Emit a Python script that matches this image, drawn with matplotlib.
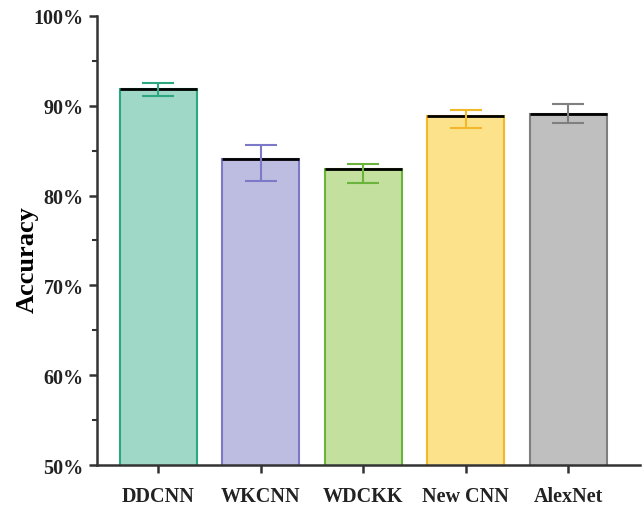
import matplotlib
matplotlib.use("Agg")
import matplotlib.pyplot as plt
from matplotlib.ticker import MultipleLocator, FuncFormatter

plt.rcParams["font.family"] = ["Liberation Serif", "DejaVu Serif"]

models = ["DDCNN", "WKCNN", "WDCKK", "New CNN", "AlexNet"]
accuracy = [91.9, 84.1, 82.9, 88.9, 89.05]
err_low = [0.85, 2.5, 1.5, 1.4, 1.0]
err_high = [0.6, 1.5, 0.65, 0.6, 1.15]
fill_colors = ["#9fd8c6", "#bcbde0", "#c3e09f", "#fde28c", "#bfbfbf"]
edge_colors = ["#2ca880", "#7c79c8", "#6bb43c", "#f3b82a", "#7f7f7f"]

fig = plt.figure(figsize=(6.42, 5.10), dpi=100)
ax = fig.add_axes([0.151, 0.086, 0.846, 0.881])

x = list(range(len(models)))
for i in x:
    ax.bar(i, accuracy[i], width=0.75, color=fill_colors[i],
           edgecolor=edge_colors[i], linewidth=1.5, zorder=2)
    ax.hlines(accuracy[i], i - 0.375, i + 0.375, color="black", linewidth=2, zorder=4)
    ax.errorbar(i, accuracy[i], yerr=[[err_low[i]], [err_high[i]]], fmt="none",
                ecolor=edge_colors[i], elinewidth=1.5, capsize=11.5, capthick=1.5, zorder=5)

ax.set_ylim(50, 100)
ax.set_xlim(-0.6, 4.7)
ax.set_xticks(x)
ax.set_xticklabels(models, fontsize=14.5, fontweight="bold")
ax.yaxis.set_major_locator(MultipleLocator(10))
ax.yaxis.set_minor_locator(MultipleLocator(5))
ax.yaxis.set_major_formatter(FuncFormatter(lambda v, p: "%d%%" % v))
for lab in ax.get_yticklabels():
    lab.set_fontweight("bold")
    lab.set_fontsize(14.5)
ax.set_ylabel("Accuracy", fontsize=19, fontweight="bold")
ax.yaxis.set_label_coords(-0.108, 0.46)

for s in ["top", "right"]:
    ax.spines[s].set_visible(False)
for s in ["left", "bottom"]:
    ax.spines[s].set_linewidth(1.8)
    ax.spines[s].set_color("#333333")
ax.tick_params(axis="both", which="major", direction="out", length=6, width=1.8,
               colors="#333333", labelcolor="#222222")
ax.tick_params(axis="x", which="major", pad=9)
ax.tick_params(axis="y", which="minor", direction="out", length=3.5, width=1.5, colors="#333333")

fig.savefig("out.png", dpi=100)
